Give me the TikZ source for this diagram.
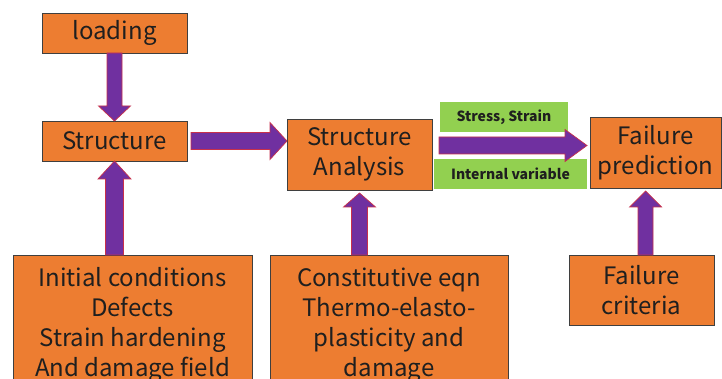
\documentclass[tikz,border=0pt]{standalone}
\usepackage{fontspec}
\setmainfont{Noto Sans CJK KR}
\usetikzlibrary{calc}
\definecolor{boxorange}{HTML}{ED7D31}
\definecolor{boxedge}{HTML}{3F3F3F}
\definecolor{taggreen}{HTML}{92D050}
\definecolor{arrpurple}{HTML}{7030A0}
\definecolor{arredge}{HTML}{C8304A}
\tikzset{
  box/.style={draw=boxedge, fill=boxorange, line width=0.8pt, inner sep=0pt, outer sep=0pt,
    text=black!88, align=center, font=\fontsize{24}{30}\selectfont},
  tag/.style={fill=taggreen, inner sep=0pt, outer sep=0pt, text=black!88,
    font=\fontsize{14}{16}\selectfont\bfseries},
  fat/.style args={#1/#2/#3}{draw=arredge, fill=arrpurple, line width=0.7pt,
    to path={($(\tikztostart)!#1!90:(\tikztotarget)$)
      -- ($(\tikztotarget)!#3!(\tikztostart)!#1!90:(\tikztotarget)$)
      -- ($(\tikztotarget)!#3!(\tikztostart)!#2!90:(\tikztotarget)$)
      -- (\tikztotarget)
      -- ($(\tikztotarget)!#3!(\tikztostart)!#2!-90:(\tikztotarget)$)
      -- ($(\tikztotarget)!#3!(\tikztostart)!#1!-90:(\tikztotarget)$)
      -- ($(\tikztostart)!#1!-90:(\tikztotarget)$) -- cycle}}
}

\begin{document}
\begin{tikzpicture}[x=1pt, y=-1pt]
	%%%%% START %%%%%
	\useasboundingbox[fill=white] (0, 0) rectangle (722, 379);
	
	\node[box, minimum width=145, minimum height=40] (loading) at (114.5, 33) {loading};
	\node[box, minimum width=145, minimum height=40] (structure) at (114.5, 141) {Structure};
	\node[box, minimum width=145, minimum height=71] (analysis) at (359.5, 154.5) {Structure\\Analysis};
	\node[box, minimum width=131, minimum height=71] (prediction) at (655.5, 152.5) {Failure\\prediction};
	
	\node[tag, minimum width=128, minimum height=30] (stress) at (504, 117) {Stress, Strain};
	\node[tag, minimum width=153, minimum height=30] (internal) at (510.5, 174) {Internal variable};
	
	\node[box, minimum width=239, minimum height=140] (initial) at (132.5, 325)
		{Initial conditions\\Defects\\Strain hardening\\And damage field};
	\node[box, minimum width=238, minimum height=140] (constitutive) at (389, 325)
		{Constitutive eqn\\Thermo-elasto-\\plasticity and\\damage};
	\node[box, minimum width=145, minimum height=70] (criteria) at (641.5, 290) {Failure\\criteria};
	
	% block arrows
	\path[fat=7.5pt/16pt/15pt] (loading.south) to (structure.north);
	\path[fat=8.5pt/18.5pt/17pt] ([xshift=4pt]structure.east) to (structure.east -| analysis.west);
	\path[fat=8.5pt/16pt/22pt] ([shift={(7,-9)}]analysis.east) to ([shift={(-3,-7)}]prediction.west);
	
	\path[fat=9pt/16.5pt/18pt] (initial.north -| structure.south) to (structure.south);
	\path[fat=8pt/16pt/14pt] (constitutive.north -| analysis.south) to ([yshift=-3pt]analysis.south);
	\path[fat=7.5pt/16pt/16pt] ([xshift=4pt]criteria.north) to ([shift={(4,3)}]criteria.north |- prediction.south);
	
	%%%%% END %%%%%
\end{tikzpicture}
\end{document}
